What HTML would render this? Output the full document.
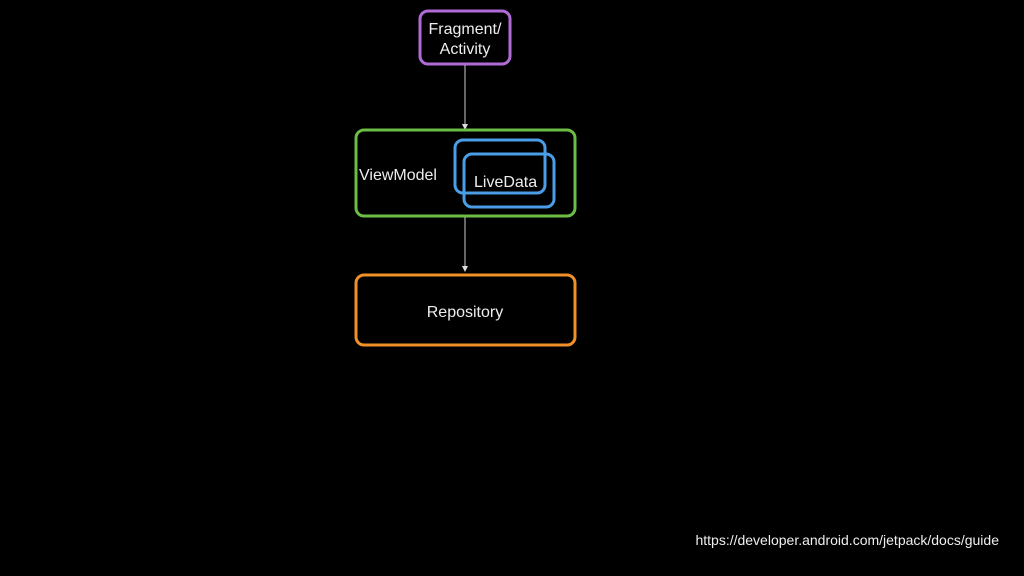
<html><body style="margin:0;background:#000;width:1024px;height:576px;position:relative;overflow:hidden;font-family:'Liberation Sans',sans-serif;color:#eee">
<svg width="1024" height="576" style="position:absolute;left:0;top:0">
<defs><marker id="a" markerWidth="6" markerHeight="6" refX="3" refY="5" orient="auto"><path d="M0,0 L6,0 L3,6 z" fill="#ddd" transform="rotate(0)"/></marker></defs>
<rect x="420" y="11" width="90" height="53" rx="8" fill="none" stroke="#b06bd6" stroke-width="3"/>
<line x1="465" y1="65" x2="465" y2="124" stroke="#ccc" stroke-width="1"/>
<path d="M462,124 L468,124 L465,130 z" fill="#ddd"/>
<rect x="356" y="130" width="219" height="86" rx="8" fill="none" stroke="#6cbd45" stroke-width="3"/>
<rect x="455" y="140" width="90" height="53" rx="8" fill="none" stroke="#4a9de6" stroke-width="3"/>
<rect x="464" y="154" width="90" height="53" rx="8" fill="none" stroke="#4a9de6" stroke-width="3"/>
<line x1="465" y1="217" x2="465" y2="266" stroke="#ccc" stroke-width="1"/>
<path d="M462,266 L468,266 L465,272 z" fill="#ddd"/>
<rect x="356" y="275" width="219" height="70" rx="8" fill="none" stroke="#ef9128" stroke-width="3"/>
<g font-family="Liberation Sans, sans-serif" fill="#eee">
<text x="465" y="34" font-size="16" text-anchor="middle">Fragment/</text>
<text x="465" y="54" font-size="16" text-anchor="middle">Activity</text>
<text x="359" y="180" font-size="16">ViewModel</text>
<text x="474" y="187" font-size="16">LiveData</text>
<text x="465" y="317" font-size="16" text-anchor="middle">Repository</text>
<text x="999" y="545" font-size="14" text-anchor="end">https://developer.android.com/jetpack/docs/guide</text>
</g>
</svg>
</body></html>
